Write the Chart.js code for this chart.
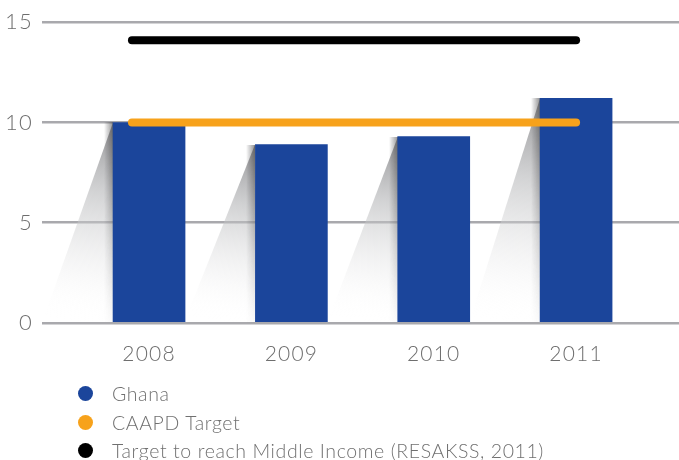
<!DOCTYPE html>
<html>
<head>
<meta charset="utf-8">
<script src="https://cdn.jsdelivr.net/npm/chart.js@4/dist/chart.umd.min.js"></script>
<style>
  html, body { margin: 0; padding: 0; background: #ffffff; }
  #wrap { position: relative; width: 679px; height: 460px; overflow: hidden; }
  #chart { position: absolute; left: 0; top: 0; }
  #legend { position: absolute; left: 0; top: 0; width: 679px; height: 460px; pointer-events: none; }
  .item { position: absolute; left: 78px; height: 20px; display: flex; align-items: center;
          font-family: Lato, "Open Sans", sans-serif; font-weight: 300; font-size: 19.5px; letter-spacing: 0.6px;
          color: #707070; white-space: nowrap; }
  .dot { width: 15px; height: 15px; border-radius: 50%; margin-right: 19px; flex: none; }
</style>
</head>
<body>
<div id="wrap">
  <canvas id="chart" width="679" height="460"></canvas>
  <div id="legend"></div>
</div>
<script>
// Agricultural spending share, Ghana vs. targets
const years = ['2008', '2009', '2010', '2011'];
const ghana = [10.0, 8.9, 9.3, 11.2];
const caapdTarget = 10;
const middleIncomeTarget = 14.1;
const targetSpan = [-0.12, 3];          // x-range covered by the target lines (category units)
const yTicks = [0, 5, 10, 15];

const seriesNames = ['Ghana', 'CAAPD Target', 'Target to reach Middle Income (RESAKSS, 2011)'];
const seriesColors = ['#1B459B', '#F7A21B', '#000000'];

const lineData = v => targetSpan.map(x => ({ x: x, y: v }));

// Slightly wider tracking for the axis labels
const tracking = {
  id: 'tracking',
  beforeInit(chart) { chart.ctx.letterSpacing = '1.2px'; },
  beforeDraw(chart) { chart.ctx.letterSpacing = '1.2px'; }
};

// Slanted grey shading to the left of each bar
const barShade = {
  id: 'barShade',
  beforeDatasetsDraw(chart) {
    const meta = chart.getDatasetMeta(0);
    const ctx = chart.ctx;
    meta.data.forEach(bar => {
      const p = bar.getProps(['x', 'y', 'base', 'width'], true);
      const left = Math.round(p.x - p.width / 2);
      const top = p.y, base = p.base;
      const w = p.width * 0.98;

      ctx.save();
      const g = ctx.createLinearGradient(left, top, left - w * 0.4, base);
      g.addColorStop(0, 'rgba(125,125,128,0.85)');
      g.addColorStop(0.35, 'rgba(180,181,183,0.6)');
      g.addColorStop(0.75, 'rgba(230,230,231,0.3)');
      g.addColorStop(1, 'rgba(255,255,255,0)');
      ctx.fillStyle = g;
      ctx.beginPath();
      ctx.moveTo(left, top);
      ctx.lineTo(left, base);
      ctx.lineTo(left - w, base);
      ctx.closePath();
      ctx.fill();
      ctx.restore();

      // soft dark edge along the bar side, fading downward
      const sw = 9, h = Math.max(1, Math.ceil(base - top));
      const off = document.createElement('canvas');
      off.width = sw; off.height = h;
      const o = off.getContext('2d');
      const eg = o.createLinearGradient(0, 0, sw, 0);
      eg.addColorStop(0, 'rgba(70,70,72,0)');
      eg.addColorStop(1, 'rgba(70,70,72,0.6)');
      o.fillStyle = eg;
      o.fillRect(0, 0, sw, h);
      o.globalCompositeOperation = 'destination-in';
      const m = o.createLinearGradient(0, 0, 0, h);
      m.addColorStop(0, 'rgba(0,0,0,1)');
      m.addColorStop(0.6, 'rgba(0,0,0,0.35)');
      m.addColorStop(1, 'rgba(0,0,0,0.05)');
      o.fillStyle = m;
      o.fillRect(0, 0, sw, h);
      ctx.drawImage(off, left - sw, top);
    });
  }
};

const tickFont = { family: 'Lato, "Open Sans", sans-serif', weight: 300 };

new Chart(document.getElementById('chart'), {
  data: {
    datasets: [
      {
        type: 'bar',
        label: seriesNames[0],
        data: years.map((y, i) => ({ x: i, y: ghana[i] })),
        backgroundColor: seriesColors[0],
        barThickness: 72,
        borderWidth: 0,
        order: 3
      },
      {
        type: 'line',
        label: seriesNames[1],
        data: lineData(caapdTarget),
        borderColor: seriesColors[1],
        borderWidth: 8,
        borderCapStyle: 'round',
        pointRadius: 0,
        order: 2
      },
      {
        type: 'line',
        label: seriesNames[2],
        data: lineData(middleIncomeTarget),
        borderColor: seriesColors[2],
        borderWidth: 8,
        borderCapStyle: 'round',
        pointRadius: 0,
        order: 1
      }
    ]
  },
  options: {
    responsive: false,
    animation: false,
    devicePixelRatio: 1,
    layout: { padding: { top: 21, left: 0, right: 0, bottom: 87 } },
    plugins: { legend: { display: false }, tooltip: { enabled: false } },
    scales: {
      x: {
        type: 'linear',
        offset: false,
        bounds: 'data',
        min: -0.752,
        max: 3.723,
        grid: { display: false, drawTicks: false, offset: false },
        border: { display: false },
        afterBuildTicks: s => { s.ticks = years.map((_, i) => ({ value: i })); },
        afterFit: s => { s.height = 50; },
        ticks: {
          autoSkip: false,
          maxRotation: 0,
          padding: 19,
          color: '#6e6e6e',
          font: Object.assign({ size: 21 }, tickFont),
          callback: v => years[v]
        }
      },
      y: {
        min: 0,
        max: 15,
        afterBuildTicks: s => { s.ticks = yTicks.map(v => ({ value: v })); },
        afterFit: s => { s.width = 42; },
        grid: { color: '#a9a9ad', lineWidth: 2.5, drawTicks: false },
        border: { display: false },
        ticks: {
          padding: 9,
          color: '#6e6e6e',
          font: Object.assign({ size: 22 }, tickFont)
        }
      }
    }
  },
  plugins: [tracking, barShade]
});

// Legend, one entry per row
const legend = document.getElementById('legend');
const legendTops = [383, 412, 440];
seriesNames.forEach((name, i) => {
  const item = document.createElement('div');
  item.className = 'item';
  item.style.top = legendTops[i] + 'px';
  const dot = document.createElement('span');
  dot.className = 'dot';
  dot.style.background = seriesColors[i];
  const txt = document.createElement('span');
  txt.textContent = name;
  item.appendChild(dot);
  item.appendChild(txt);
  legend.appendChild(item);
});
</script>
</body>
</html>
